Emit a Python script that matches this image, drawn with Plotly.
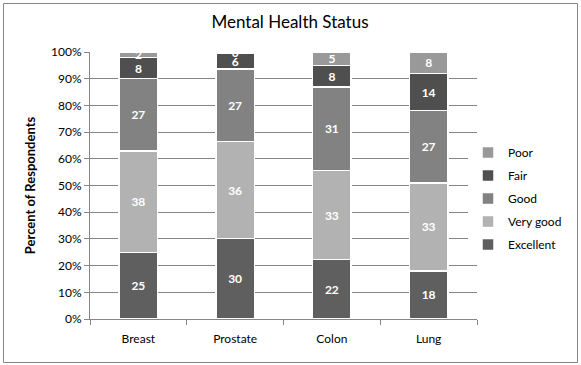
import plotly.graph_objects as go

categories = ["Breast", "Prostate", "Colon", "Lung"]
excellent = [25, 30, 22, 18]
very_good = [38, 36, 33, 33]
good = [27, 27, 31, 27]
fair = [8, 6, 8, 14]
poor = [2, 0.4, 5, 8]
series = [
    ("Excellent", excellent, "#5f5f5f"),
    ("Very good", very_good, "#b2b2b2"),
    ("Good", good, "#828282"),
    ("Fair", fair, "#4f4f4f"),
    ("Poor", poor, "#999999"),
]
y_ticks = list(range(0, 101, 10))

fig = go.Figure()
for i, (name, vals, col) in enumerate(series):
    fig.add_trace(go.Bar(
        x=categories, y=vals, name=name,
        marker=dict(color=col, line=dict(color="white", width=1.5)),
        text=[f"{round(v)}" for v in vals],
        textposition="inside", insidetextanchor="middle",
        textangle=0,
        textfont=dict(family="Lato", size=12, color="white", weight="bold"),
        constraintext="none",
        legendgroup=name,
        legendrank=len(series) - i,
        hoverinfo="skip",
    ))

L, R, T, B = 90, 477, 52, 319
W, H = 581, 365
pw, ph = R - L, B - T

fig.update_layout(
    width=W, height=H,
    barmode="stack", barnorm="percent", bargap=0.6,
    margin=dict(l=L, r=W - R, t=T, b=H - B, autoexpand=False),
    paper_bgcolor="white", plot_bgcolor="white",
    title=dict(text="Mental Health Status", x=290 / W, xref="container", xanchor="center",
               y=1 - 22 / H, yanchor="middle",
               font=dict(family="Lato", size=17, color="black")),
    font=dict(family="Lato", size=12, color="black"),
    legend=dict(x=(468 - L) / pw, y=(B - 138) / ph, xanchor="left", yanchor="top",
                traceorder="grouped", tracegroupgap=4,
                itemwidth=30,
                font=dict(family="Lato", size=12, color="black")),
    showlegend=True,
)
fig.update_xaxes(
    tickson="boundaries", ticks="outside", ticklen=5, tickcolor="#868686",
    showline=True, linecolor="#868686", linewidth=1,
    showgrid=False, tickfont=dict(family="Lato", size=12),
    ticklabelstandoff=9,
)
fig.update_yaxes(
    range=[0, 100], tickvals=y_ticks, ticktext=[f"{v}%" for v in y_ticks],
    ticks="outside", ticklen=5, tickcolor="#868686",
    showline=True, linecolor="#868686", linewidth=1,
    showgrid=True, gridcolor="#868686", gridwidth=1,
    tickfont=dict(family="Lato", size=12),
    title=dict(text="<b>Percent of Respondents</b>", font=dict(family="Lato", size=13), standoff=12),
)
fig.add_shape(type="rect", xref="paper", yref="paper",
              x0=(3.5 - L) / pw, x1=(577.5 - L) / pw,
              y0=(B - 362.5) / ph, y1=(B - 3.5) / ph,
              line=dict(color="#868686", width=1), fillcolor="rgba(0,0,0,0)", layer="below")

fig.write_html("out.html", config={"displayModeBar": False, "staticPlot": True})

with open("out.html", "r", encoding="utf-8") as f:
    html = f.read()
html = html.replace("<body>", '<body style="margin:0;padding:0;">', 1)
with open("out.html", "w", encoding="utf-8") as f:
    f.write(html)
